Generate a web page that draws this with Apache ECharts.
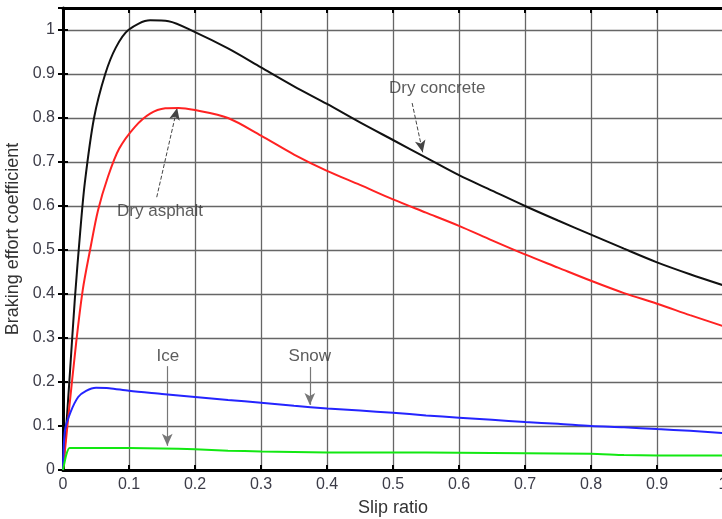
<!DOCTYPE html>
<html>
<head>
<meta charset="utf-8">
<script src="https://cdn.jsdelivr.net/npm/echarts@6/dist/echarts.min.js"></script>
<style>html,body{margin:0;padding:0;background:#fff;}#c{width:722px;height:519px;}</style>
</head>
<body>
<div id="c"></div>
<script>
// ---- data ----
const concreteX = [0, 0.005, 0.01, 0.018, 0.026, 0.033, 0.047, 0.064, 0.08, 0.099, 0.132, 0.16, 0.2, 0.25, 0.3, 0.35, 0.4, 0.45, 0.5, 0.55, 0.6, 0.65, 0.7, 0.75, 0.8, 0.85, 0.9, 0.95, 1.0];
const concreteY = [0, 0.10, 0.21, 0.39, 0.54, 0.652, 0.80, 0.90, 0.96, 1.0, 1.022, 1.02, 0.995, 0.958, 0.915, 0.872, 0.832, 0.79, 0.75, 0.71, 0.67, 0.635, 0.60, 0.567, 0.535, 0.503, 0.472, 0.445, 0.42];
const asphaltX = [0, 0.008, 0.02, 0.03, 0.041, 0.053, 0.068, 0.085, 0.109, 0.132, 0.155, 0.175, 0.2, 0.25, 0.3, 0.35, 0.4, 0.45, 0.5, 0.55, 0.6, 0.65, 0.7, 0.75, 0.8, 0.85, 0.9, 0.95, 1.0];
const asphaltY = [0, 0.12, 0.29, 0.41, 0.50, 0.59, 0.666, 0.73, 0.78, 0.81, 0.822, 0.823, 0.818, 0.80, 0.76, 0.717, 0.68, 0.648, 0.615, 0.585, 0.555, 0.522, 0.49, 0.46, 0.43, 0.402, 0.378, 0.352, 0.327];
const snowX = [0, 0.003, 0.011, 0.023, 0.035, 0.05, 0.07, 0.1, 0.15, 0.2, 0.25, 0.3, 0.35, 0.4, 0.45, 0.5, 0.55, 0.6, 0.65, 0.7, 0.75, 0.8, 0.85, 0.9, 0.95, 1.0];
const snowY = [0, 0.09, 0.13, 0.166, 0.18, 0.187, 0.186, 0.18, 0.173, 0.166, 0.159, 0.153, 0.146, 0.14, 0.135, 0.13, 0.124, 0.119, 0.114, 0.109, 0.105, 0.1, 0.097, 0.093, 0.089, 0.084];
const iceX = [0, 0.005, 0.01, 0.05, 0.1, 0.15, 0.2, 0.25, 0.3, 0.4, 0.5, 0.6, 0.7, 0.8, 0.85, 0.9, 1.0];
const iceY = [0, 0.035, 0.05, 0.05, 0.05, 0.049, 0.047, 0.044, 0.042, 0.04, 0.04, 0.039, 0.038, 0.037, 0.034, 0.033, 0.033];

const xTicks = ['0', '0.1', '0.2', '0.3', '0.4', '0.5', '0.6', '0.7', '0.8', '0.9', '1'];
const yTicks = ['0', '0.1', '0.2', '0.3', '0.4', '0.5', '0.6', '0.7', '0.8', '0.9', '1'];

// annotation labels: text, position [x, y]
const noteText = ['Dry concrete', 'Dry asphalt', 'Ice', 'Snow'];
const noteAt = [[0.567, 0.868], [0.147, 0.589], [0.159, 0.259], [0.374, 0.259]];
// arrows: from [x, y] to [x, y]
const arrowFrom = [[0.529, 0.834], [0.142, 0.62], [0.158, 0.236], [0.374, 0.234]];
const arrowTo = [[0.545, 0.722], [0.173, 0.823], [0.158, 0.055], [0.374, 0.148]];

const zip = (xs, ys) => xs.map((x, i) => [x, ys[i]]);
const font = 'Liberation Sans, Arial, sans-serif';
const gridLine = { show: true, lineStyle: { color: '#666', width: 1.3 } };
const arrowStyles = [
  { color: '#444', width: 1, type: 'dashed' },
  { color: '#444', width: 1, type: 'dashed' },
  { color: '#777', width: 1.2, type: 'solid' },
  { color: '#777', width: 1.2, type: 'solid' }
];

const chart = echarts.init(document.getElementById('c'), null, { renderer: 'canvas' });
chart.setOption({
  animation: false,
  backgroundColor: '#fff',
  grid: { left: 63, top: 8, width: 660, height: 462, containLabel: false, outerBoundsMode: 'none' },
  xAxis: [{
    type: 'value', min: 0, max: 1, interval: 0.1,
    name: 'Slip ratio', nameLocation: 'middle', nameGap: 29,
    nameTextStyle: { fontFamily: font, fontSize: 18, color: '#333' },
    axisLine: { show: true, onZero: false, lineStyle: { color: '#000', width: 3 } },
    axisTick: { show: true, inside: true, length: 5, lineStyle: { color: '#000', width: 2 } },
    axisLabel: { fontFamily: font, fontSize: 16, color: '#3c3c48', margin: 7, hideOverlap: false,
      formatter: v => xTicks[Math.round(v * 10)] },
    splitLine: gridLine
  }, {
    type: 'value', position: 'top', min: 0, max: 1, interval: 0.1,
    axisLine: { show: true, onZero: false, lineStyle: { color: '#000', width: 3 } },
    axisTick: { show: true, inside: true, length: 5, lineStyle: { color: '#000', width: 2 } },
    axisLabel: { show: false }, splitLine: { show: false }
  }],
  yAxis: [{
    type: 'value', min: 0, max: 1.05, interval: 0.1,
    name: 'Braking effort coefficient', nameLocation: 'middle', nameGap: 35,
    nameTextStyle: { fontFamily: font, fontSize: 18, color: '#333' },
    axisLine: { show: true, onZero: false, lineStyle: { color: '#000', width: 3 } },
    axisTick: { show: true, inside: true, length: 5, lineStyle: { color: '#000', width: 2 } },
    axisLabel: { fontFamily: font, fontSize: 16, color: '#3c3c48', margin: 8, showMaxLabel: false,
      formatter: v => { const i = Math.round(v * 10); return Math.abs(v * 10 - i) < 1e-6 ? yTicks[i] : ''; } },
    splitLine: gridLine
  }, {
    type: 'value', position: 'right', min: 0, max: 1.05, interval: 0.1,
    axisLine: { show: false },
    axisTick: { show: true, inside: true, length: 5, lineStyle: { color: '#000', width: 2 } },
    axisLabel: { show: false }, splitLine: { show: false }
  }],
  series: [
    { name: 'Dry concrete', type: 'line', smooth: 0.3, showSymbol: false, data: zip(concreteX, concreteY),
      lineStyle: { color: '#111', width: 2 }, z: 5 },
    { name: 'Dry asphalt', type: 'line', smooth: 0.3, showSymbol: false, data: zip(asphaltX, asphaltY),
      lineStyle: { color: '#ff2222', width: 2 }, z: 5 },
    { name: 'Snow', type: 'line', smooth: 0.3, showSymbol: false, data: zip(snowX, snowY),
      lineStyle: { color: '#2424ff', width: 2 }, z: 5 },
    { name: 'Ice', type: 'line', smooth: 0.2, showSymbol: false, data: zip(iceX, iceY),
      lineStyle: { color: '#12e812', width: 2 }, z: 5 },
    { name: 'notes', type: 'scatter', symbolSize: 0, z: 6,
      data: noteAt.map((p, i) => ({ value: p, name: noteText[i] })),
      label: { show: true, position: 'inside', formatter: p => p.name,
        fontFamily: font, fontSize: 17, color: '#333' },
      markLine: {
        silent: true, symbol: ['none', 'arrow'], symbolSize: [8, 12],
        label: { show: false },
        data: arrowFrom.map((f, i) => [{ coord: f, lineStyle: arrowStyles[i] }, { coord: arrowTo[i] }])
      }
    }
  ]
});
</script>
</body>
</html>
